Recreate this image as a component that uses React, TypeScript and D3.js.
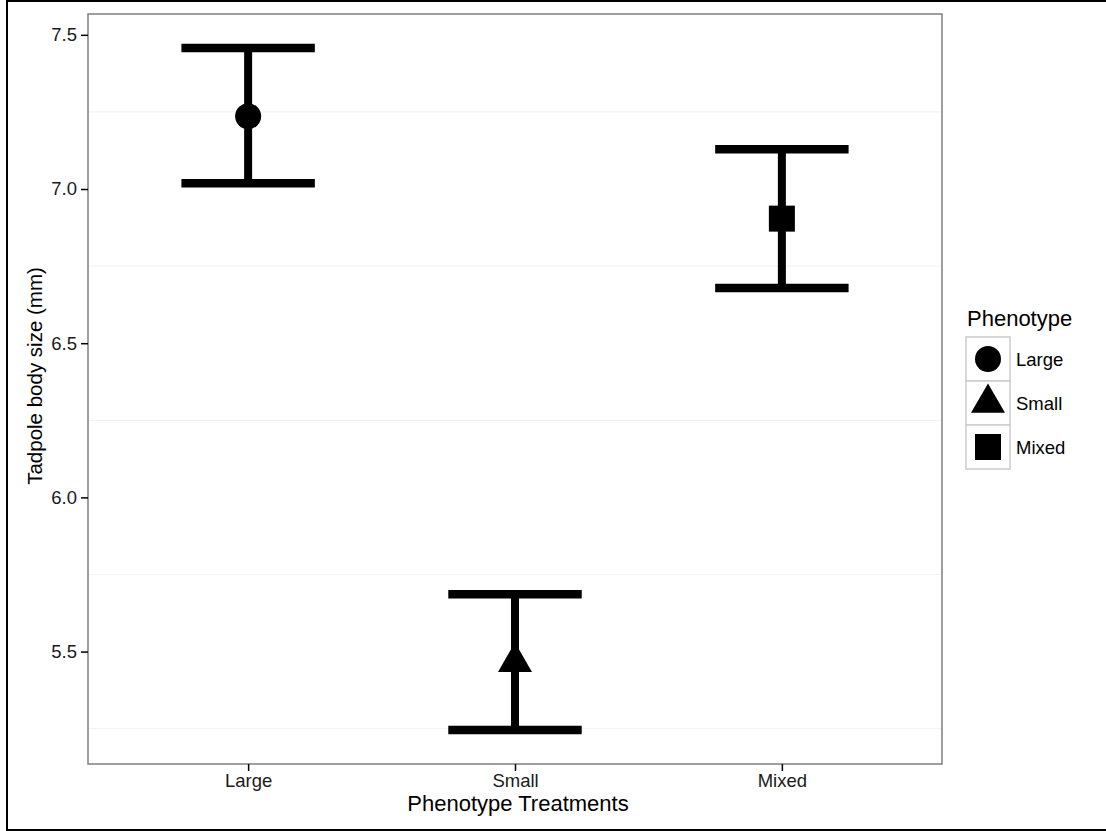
import React, { useRef, useEffect } from 'react';
import * as d3 from 'd3';

// Values
const categories = ['Large', 'Small', 'Mixed'];
const means = [7.236, 5.466, 6.904];
const lowerCI = [7.019, 5.246, 6.679];
const upperCI = [7.457, 5.686, 7.129];
const yTicks = [5.5, 6.0, 6.5, 7.0, 7.5];
const yMinorTicks = [5.25, 5.75, 6.25, 6.75, 7.25];
const shapes = ['circle', 'triangle', 'square'];

const W = 1106;
const H = 831;
const FONT = '"Liberation Sans", Arial, Helvetica, sans-serif';

const App: React.FC = () => {
  const svgRef = useRef<SVGSVGElement | null>(null);

  useEffect(() => {
    if (!svgRef.current) return;
    const svg = d3.select(svgRef.current);
    svg.selectAll('*').remove();

    const panel = { left: 88, right: 942, top: 14, bottom: 764 };

    // ggplot-style 5% expansion of the data range
    const lo = d3.min(lowerCI) as number;
    const hi = d3.max(upperCI) as number;
    const pad = (hi - lo) * 0.05;

    const x = d3.scalePoint<string>()
      .domain(categories)
      .range([panel.left, panel.right])
      .padding(0.6);
    const y = d3.scaleLinear()
      .domain([lo - pad, hi + pad])
      .range([panel.bottom, panel.top]);

    const step = x.step();

    // outer frame
    svg.append('rect')
      .attr('x', 7)
      .attr('y', 1)
      .attr('width', 1120)
      .attr('height', 829)
      .attr('fill', 'white')
      .attr('stroke', '#000')
      .attr('stroke-width', 2);

    // panel background
    svg.append('rect')
      .attr('x', panel.left)
      .attr('y', panel.top)
      .attr('width', panel.right - panel.left)
      .attr('height', panel.bottom - panel.top)
      .attr('fill', 'white');

    // faint minor gridlines
    svg.append('g')
      .selectAll('line')
      .data(yMinorTicks)
      .join('line')
      .attr('x1', panel.left)
      .attr('x2', panel.right)
      .attr('y1', d => y(d))
      .attr('y2', d => y(d))
      .attr('stroke', '#f3f3f3')
      .attr('stroke-width', 1.2);

    // error bars
    const bars = svg.append('g');
    categories.forEach((c, i) => {
      const cx = x(c) as number;
      bars.append('line')
        .attr('x1', cx).attr('x2', cx)
        .attr('y1', y(upperCI[i])).attr('y2', y(lowerCI[i]))
        .attr('stroke', '#000').attr('stroke-width', 8);
      [upperCI[i], lowerCI[i]].forEach(v => {
        bars.append('line')
          .attr('x1', cx - step * 0.25).attr('x2', cx + step * 0.25)
          .attr('y1', y(v)).attr('y2', y(v))
          .attr('stroke', '#000').attr('stroke-width', 8.5);
      });
    });

    // point shapes
    function drawShape(g: d3.Selection<SVGGElement, unknown, null, undefined>, shape: string, cx: number, cy: number) {
      if (shape === 'circle') {
        g.append('circle').attr('cx', cx).attr('cy', cy).attr('r', 13).attr('fill', '#000');
      } else if (shape === 'square') {
        g.append('rect').attr('x', cx - 13).attr('y', cy - 13).attr('width', 26).attr('height', 26).attr('fill', '#000');
      } else {
        g.append('path')
          .attr('d', d3.symbol().type(d3.symbolTriangle).size(500)() as string)
          .attr('transform', `translate(${cx},${cy})`)
          .attr('fill', '#000');
      }
    }

    const pts = svg.append('g');
    categories.forEach((c, i) => {
      drawShape(pts, shapes[i], x(c) as number, y(means[i]));
    });

    // panel border
    svg.append('rect')
      .attr('x', panel.left)
      .attr('y', panel.top)
      .attr('width', panel.right - panel.left)
      .attr('height', panel.bottom - panel.top)
      .attr('fill', 'none')
      .attr('stroke', '#7f7f7f')
      .attr('stroke-width', 1.5);

    // y axis
    const yAxis = svg.append('g')
      .attr('transform', `translate(${panel.left},0)`)
      .call(d3.axisLeft(y).tickValues(yTicks).tickFormat(d3.format('.1f')).tickSize(7).tickPadding(4));
    yAxis.select('.domain').remove();
    yAxis.selectAll('line').attr('stroke', '#000').attr('stroke-width', 1.5);
    yAxis.selectAll('text')
      .attr('font-family', FONT)
      .attr('font-size', 18.5)
      .attr('fill', '#1a1a1a');

    // x axis
    const xAxis = svg.append('g')
      .attr('transform', `translate(0,${panel.bottom})`)
      .call(d3.axisBottom(x).tickSize(7).tickPadding(3));
    xAxis.select('.domain').remove();
    xAxis.selectAll('line').attr('stroke', '#000').attr('stroke-width', 1.5);
    xAxis.selectAll('text')
      .attr('font-family', FONT)
      .attr('font-size', 18.5)
      .attr('fill', '#1a1a1a');

    // axis titles
    svg.append('text')
      .attr('x', 518)
      .attr('y', 811)
      .attr('text-anchor', 'middle')
      .attr('font-family', FONT)
      .attr('font-size', 22)
      .attr('fill', '#000')
      .text('Phenotype Treatments');

    svg.append('text')
      .attr('transform', 'translate(42,376) rotate(-90)')
      .attr('text-anchor', 'middle')
      .attr('font-family', FONT)
      .attr('font-size', 20.5)
      .attr('fill', '#000')
      .text('Tadpole body size (mm)');

    // legend
    const legend = svg.append('g').attr('transform', 'translate(966,337)');
    legend.append('text')
      .attr('x', 1)
      .attr('y', -11)
      .attr('font-family', FONT)
      .attr('font-size', 22)
      .attr('fill', '#000')
      .text('Phenotype');
    categories.forEach((c, i) => {
      const ky = i * 44;
      legend.append('rect')
        .attr('x', 0).attr('y', ky)
        .attr('width', 44).attr('height', 44)
        .attr('fill', 'white')
        .attr('stroke', '#cccccc')
        .attr('stroke-width', 1.5);
      drawShape(legend, shapes[i], 22, ky + 22);
      legend.append('text')
        .attr('x', 50)
        .attr('y', ky + 22 + 6.5)
        .attr('font-family', FONT)
        .attr('font-size', 18.5)
        .attr('fill', '#000')
        .text(c);
    });
  }, []);

  return (
    <svg
      ref={svgRef}
      width={W}
      height={H}
      style={{ position: 'absolute', left: 0, top: 0, display: 'block' }}
    ></svg>
  );
};

export default App;
